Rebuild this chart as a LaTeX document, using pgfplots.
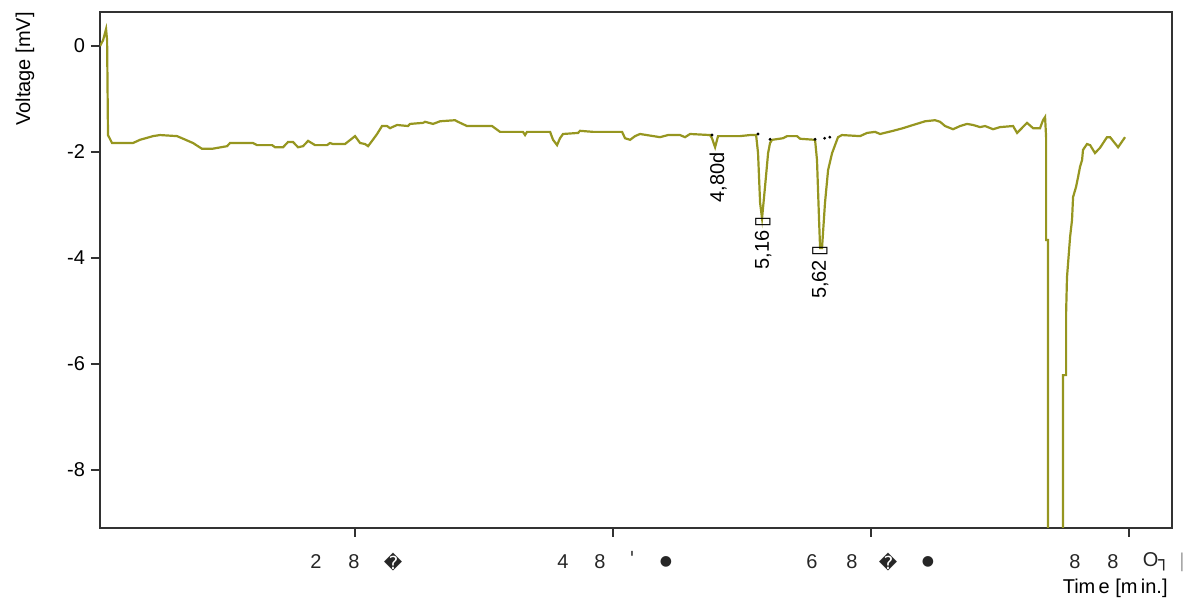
\documentclass[border=0pt]{standalone}
\usepackage{fontspec}
\setmainfont{Liberation Sans}
\newfontfamily\symfont{DejaVu Sans}
\usepackage{pgfplots}
\pgfplotsset{compat=1.18}
\definecolor{olivec}{RGB}{150,150,32}
\definecolor{framec}{RGB}{50,50,50}
\begin{document}
\fontsize{10pt}{12pt}\selectfont
\begin{tikzpicture}
\useasboundingbox (-50pt,-35.5pt) rectangle (546pt,264pt);
\begin{axis}[
  at={(0,0)}, anchor=south west,
  scale only axis, width=536pt, height=258pt,
  xmin=0.023, xmax=8.333, ymin=-9.094, ymax=0.642,
  axis line style={framec, line width=1pt},
  tick style={framec, line width=0.8pt},
  tick align=outside, major tick length=4.5pt,
  xtick={2,4,6,8}, xticklabels={},
  ytick={-8,-6,-4,-2,0}, yticklabels={-8,-6,-4,-2,0},
  yticklabel style={font=\fontsize{10pt}{12pt}\selectfont, xshift=0.5pt},
  xtick pos=bottom, ytick pos=left,
  clip mode=individual,
]
\addplot[olivec, line width=1.1pt] coordinates {
(0.023,0.00) (0.047,0.11) (0.070,0.32) (0.078,0.11) (0.085,-1.68)
(0.116,-1.83) (0.279,-1.83) (0.333,-1.77) (0.434,-1.70) (0.488,-1.68)
(0.620,-1.70) (0.744,-1.83) (0.814,-1.94) (0.891,-1.94) (1.008,-1.89)
(1.031,-1.83) (1.209,-1.83) (1.240,-1.87) (1.357,-1.87) (1.380,-1.91)
(1.442,-1.91) (1.481,-1.81) (1.519,-1.81) (1.558,-1.91) (1.597,-1.89)
(1.636,-1.79) (1.690,-1.87) (1.783,-1.87) (1.806,-1.83) (1.829,-1.85)
(1.922,-1.85) (2.000,-1.70) (2.039,-1.83) (2.078,-1.85) (2.101,-1.89)
(2.132,-1.79) (2.171,-1.66) (2.209,-1.51) (2.248,-1.51) (2.271,-1.55)
(2.326,-1.49) (2.411,-1.51) (2.426,-1.47) (2.527,-1.45) (2.543,-1.43)
(2.605,-1.47) (2.659,-1.42) (2.775,-1.40) (2.798,-1.43) (2.868,-1.51)
(3.062,-1.51) (3.124,-1.62) (3.302,-1.62) (3.318,-1.68) (3.333,-1.62)
(3.512,-1.62) (3.535,-1.77) (3.566,-1.87) (3.589,-1.74) (3.612,-1.66)
(3.729,-1.64) (3.744,-1.60) (3.845,-1.62) (3.953,-1.62) (4.070,-1.62)
(4.093,-1.74) (4.132,-1.77) (4.171,-1.70) (4.209,-1.66) (4.364,-1.72)
(4.426,-1.68) (4.519,-1.68) (4.558,-1.72) (4.597,-1.66) (4.752,-1.68)
(4.767,-1.74) (4.791,-1.91) (4.814,-1.70) (4.984,-1.70) (5.062,-1.68)
(5.109,-1.68) (5.124,-2.02) (5.140,-2.96) (5.155,-3.25) (5.178,-2.66)
(5.202,-2.02) (5.217,-1.83) (5.233,-1.77) (5.318,-1.74) (5.349,-1.70)
(5.426,-1.70) (5.450,-1.75) (5.566,-1.77) (5.581,-2.15) (5.597,-3.28)
(5.605,-3.81) (5.620,-3.81) (5.643,-2.96) (5.667,-2.34) (5.698,-2.02)
(5.721,-1.87) (5.744,-1.72) (5.775,-1.68) (5.915,-1.70) (5.969,-1.64)
(6.031,-1.62) (6.070,-1.66) (6.171,-1.60) (6.248,-1.55) (6.326,-1.49)
(6.380,-1.45) (6.419,-1.42) (6.496,-1.40) (6.535,-1.43) (6.574,-1.51)
(6.636,-1.57) (6.690,-1.51) (6.744,-1.47) (6.791,-1.49) (6.845,-1.53)
(6.884,-1.51) (6.946,-1.57) (7.000,-1.53) (7.101,-1.51) (7.132,-1.64)
(7.209,-1.45) (7.256,-1.55) (7.310,-1.55) (7.333,-1.40) (7.349,-1.34)
(7.357,-1.72) (7.357,-3.66) (7.372,-3.66) (7.372,-12.3) (7.488,-12.3)
(7.488,-6.21) (7.512,-6.21) (7.512,-5.04) (7.519,-4.36) (7.543,-3.60)
(7.558,-3.28) (7.566,-2.85) (7.589,-2.66) (7.605,-2.47) (7.620,-2.28)
(7.636,-2.15) (7.643,-1.96) (7.674,-1.85) (7.698,-1.87) (7.736,-2.02)
(7.775,-1.92) (7.829,-1.72) (7.853,-1.72) (7.915,-1.91) (7.969,-1.72)
};
% baseline markers
\addplot[black, only marks, mark=*, mark size=0.5pt] coordinates {
(4.767,-1.68) (5.124,-1.66) (5.217,-1.76) (5.566,-1.76) (5.640,-1.74) (5.680,-1.72)
};
% peak labels
\node[rotate=90, anchor=east, inner sep=0pt, text=black] at (axis cs:4.814,-2.00) {4,80d};
\node[rotate=90, anchor=east, inner sep=0pt, text=black] at (axis cs:5.163,-3.20) {5,16{\symfont\,▯}};
\node[rotate=90, anchor=east, inner sep=0pt, text=black] at (axis cs:5.605,-3.76) {5,62{\symfont\,▯}};
% garbled x tick labels
\begin{scope}[every node/.style={inner sep=0pt, anchor=center, text=black!85}]
\node[xshift=-19.5pt, yshift=-17pt] at (axis cs:2,-9.094) {2};
\node[xshift=-0.5pt, yshift=-17pt] at (axis cs:2,-9.094) {8};
\node[xshift=19pt, yshift=-17pt] at (axis cs:2,-9.094) {\symfont\small �};
\node[xshift=-25pt, yshift=-17pt] at (axis cs:4,-9.094) {4};
\node[xshift=-6.5pt, yshift=-17pt] at (axis cs:4,-9.094) {8};
\node[xshift=9.5pt, yshift=-15pt] at (axis cs:4,-9.094) {\symfont\small '};
\node[xshift=26.5pt, yshift=-17pt] at (axis cs:4,-9.094) {\symfont\scriptsize ●};
\node[xshift=-29.5pt, yshift=-17pt] at (axis cs:6,-9.094) {6};
\node[xshift=-9.5pt, yshift=-17pt] at (axis cs:6,-9.094) {8};
\node[xshift=8.5pt, yshift=-17pt] at (axis cs:6,-9.094) {\symfont\small �};
\node[xshift=28.5pt, yshift=-17pt] at (axis cs:6,-9.094) {\symfont\scriptsize ●};
\node[xshift=-27pt, yshift=-17pt] at (axis cs:8,-9.094) {8};
\node[xshift=-8pt, yshift=-17pt] at (axis cs:8,-9.094) {8};
\node[xshift=13.5pt, yshift=-17pt] at (axis cs:8,-9.094) {O{\symfont\small ┐}};
\node[xshift=26.5pt, yshift=-17pt, text=black!35] at (axis cs:8,-9.094) {|};
\end{scope}
\end{axis}
\node[rotate=90, anchor=east, inner sep=0pt] at (-37.5pt,258pt) {Voltage [mV]};
\node[anchor=east, inner sep=0pt] at (534pt,-30pt) {Tim\,e [m\,in.]};
\end{tikzpicture}
\end{document}
